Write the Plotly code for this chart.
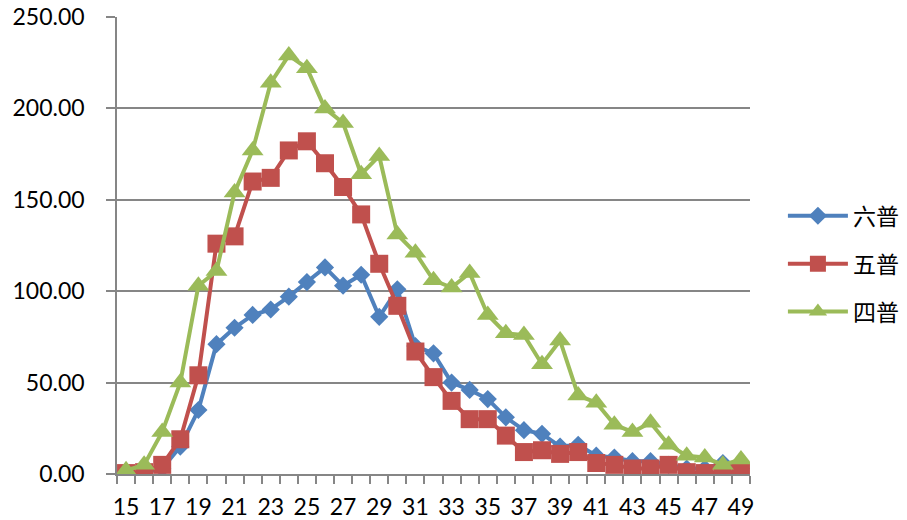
import plotly.graph_objects as go

ages = list(range(15, 50))
liu_pu = [0, 1, 3, 15, 35, 71, 80, 87, 90, 97, 105, 113, 103, 109, 86, 101, 70, 66, 50, 46, 41, 31, 24, 22, 15, 16, 10, 9, 7, 7, 5, 3, 3, 6, 3]
wu_pu = [0.5, 1, 5, 19, 54, 126, 130, 160, 162, 177, 182, 170, 157, 142, 115, 92, 67, 53, 40, 30, 30, 21, 12, 13, 11, 12, 6, 5, 3, 3, 5, 1, 0.5, 1, 1]
si_pu = [2, 5, 23, 50, 103, 111, 154, 177, 214, 229, 222, 200, 192, 164, 174, 131, 121, 106, 102, 110, 87, 77, 76, 60, 73, 43, 39, 27, 23, 28, 16, 10, 9, 5, 8]
names = ["六普", "五普", "四普"]
ytick_vals = [0, 50, 100, 150, 200, 250]
ytick_text = ["0.00", "50.00", "100.00", "150.00", "200.00", "250.00"]
xtick_vals = list(range(15, 50, 2))

colors = ["#4F81BD", "#C0504D", "#9BBB59"]
symbols = ["diamond", "square", "triangle-up"]
sizes = [14, 18, 19]

fig = go.Figure()
for i, (nm, vals) in enumerate(zip(names, [liu_pu, wu_pu, si_pu])):
    fig.add_trace(go.Scatter(
        x=ages, y=vals, name=nm, mode="lines+markers",
        line=dict(color=colors[i], width=4),
        marker=dict(symbol=symbols[i], size=sizes[i], color=colors[i]),
        legendgroup=nm,
    ))

fig.update_layout(
    width=907, height=520,
    margin=dict(l=117, r=157, t=17, b=46, autoexpand=False),
    paper_bgcolor="white", plot_bgcolor="white",
    font=dict(family="Lato, Open Sans, sans-serif", size=23, color="black"),
    legend=dict(x=1.052, y=0.46, xanchor="left", yanchor="middle",
                font=dict(family="Noto Sans CJK SC", size=23),
                tracegroupgap=15, itemwidth=60),
    showlegend=True,
)
fig.update_xaxes(
    range=[14.5, 49.5], tickvals=xtick_vals, ticks="", automargin=False,
    showline=True, linecolor="#868686", linewidth=1.5, showgrid=False, zeroline=False,
    minor=dict(ticks="outside", tick0=14.5, dtick=1, ticklen=8, tickcolor="#868686", tickwidth=1.5, showgrid=False),
    tickfont=dict(size=23), ticklabelstandoff=12, ticklabeloverflow="allow",
)
fig.update_yaxes(
    range=[0, 250], tickvals=ytick_vals, ticktext=ytick_text, automargin=False,
    ticks="outside", ticklen=9, tickcolor="#868686", tickwidth=1.5,
    showline=True, linecolor="#868686", linewidth=1.5,
    showgrid=True, gridcolor="#868686", gridwidth=1.5, zeroline=False,
    tickfont=dict(size=23), ticklabelstandoff=17, ticklabeloverflow="allow",
)
fig.write_html("out.html", config={"displayModeBar": False},
               post_script="document.body.style.margin='0';")
